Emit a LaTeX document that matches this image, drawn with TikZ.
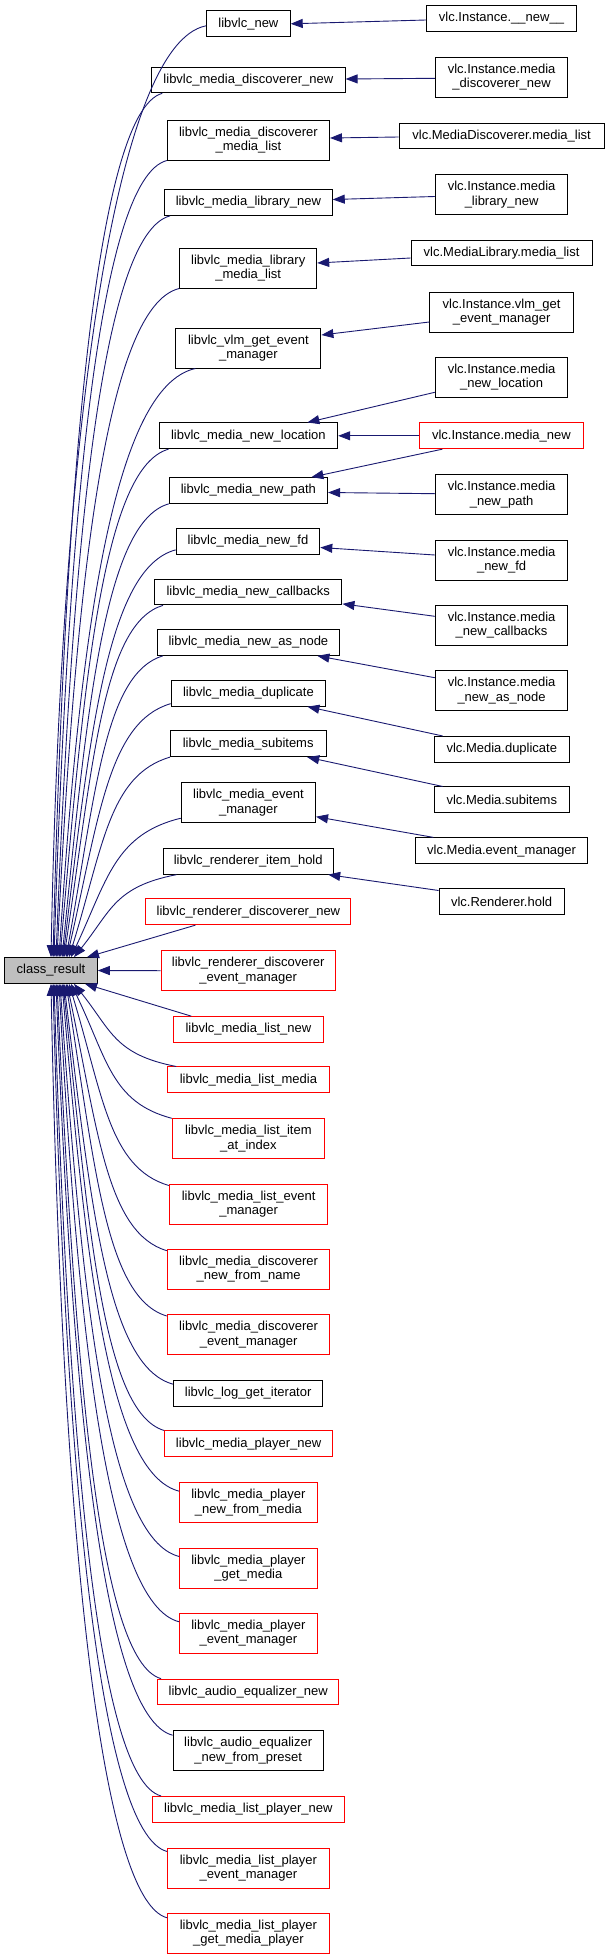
\documentclass[tikz,border=0pt]{standalone}
\usepackage{fontspec}
\setmainfont{Liberation Sans}
\usetikzlibrary{arrows.meta}
\definecolor{edgeblue}{RGB}{25,25,112}
\definecolor{boxred}{RGB}{255,0,0}
\definecolor{crgray}{RGB}{191,191,191}
\tikzset{
  nd/.style={draw=black, line width=1pt, rectangle, inner sep=0pt, minimum height=25.7pt,
    font=\fontsize{13}{14.5}\selectfont, align=center},
  ndd/.style={nd, minimum height=40pt},
  rd/.style={draw=boxred},
  edge/.style={draw=edgeblue, line width=0.9pt, -{Triangle[length=12pt,width=9pt]}},
}
\begin{document}
\begin{tikzpicture}[x=1pt,y=1pt]
\useasboundingbox (0,0) rectangle (607,-1959);
% class_result
\node[nd, fill=crgray, minimum width=92.6pt] (cr) at (51,-970.5) {class\_result};
% middle column
\node[nd, minimum width=83.6pt] (m1) at (248.4,-23.8) {libvlc\_new};
\node[nd, minimum width=193.4pt] (m2) at (248.4,-80) {libvlc\_media\_discoverer\_new};
\node[ndd, minimum width=162.2pt] (m3) at (248.4,-140) {libvlc\_media\_discoverer\\\_media\_list};
\node[nd, minimum width=167.7pt] (m4) at (248.4,-202.5) {libvlc\_media\_library\_new};
\node[ndd, minimum width=137pt] (m5) at (248.2,-268) {libvlc\_media\_library\\\_media\_list};
\node[ndd, minimum width=145pt] (m6) at (248.4,-348) {libvlc\_vlm\_get\_event\\\_manager};
\node[nd, minimum width=178.6pt] (m7) at (248.4,-435.8) {libvlc\_media\_new\_location};
\node[nd, minimum width=158.3pt] (m8) at (248.4,-490.5) {libvlc\_media\_new\_path};
\node[nd, minimum width=143.6pt] (m9) at (248,-541.5) {libvlc\_media\_new\_fd};
\node[nd, minimum width=187.5pt] (m10) at (248.2,-592) {libvlc\_media\_new\_callbacks};
\node[nd, minimum width=182.4pt] (m11) at (248.4,-642.5) {libvlc\_media\_new\_as\_node};
\node[nd, minimum width=154.4pt] (m12) at (248.4,-693.3) {libvlc\_media\_duplicate};
\node[nd, minimum width=155.6pt] (m13) at (248.2,-743.8) {libvlc\_media\_subitems};
\node[ndd, minimum width=134.2pt] (m14) at (248.4,-802.7) {libvlc\_media\_event\\\_manager};
\node[nd, minimum width=170.4pt] (m15) at (248.2,-861.3) {libvlc\_renderer\_item\_hold};
\node[nd, rd, minimum width=205pt] (m16) at (248.4,-911.8) {libvlc\_renderer\_discoverer\_new};
\node[ndd, rd, minimum width=174.3pt] (m17) at (248.2,-970.7) {libvlc\_renderer\_discoverer\\\_event\_manager};
\node[nd, rd, minimum width=150.5pt] (m18) at (248.4,-1029.5) {libvlc\_media\_list\_new};
\node[nd, rd, minimum width=161.4pt] (m19) at (248.4,-1079.8) {libvlc\_media\_list\_media};
\node[ndd, rd, minimum width=152.1pt] (m20) at (248.4,-1138.8) {libvlc\_media\_list\_item\\\_at\_index};
\node[ndd, rd, minimum width=158.7pt] (m21) at (248.6,-1204) {libvlc\_media\_list\_event\\\_manager};
\node[ndd, rd, minimum width=162.6pt] (m22) at (248.6,-1269.2) {libvlc\_media\_discoverer\\\_new\_from\_name};
\node[ndd, rd, minimum width=162.6pt] (m23) at (248.6,-1334.5) {libvlc\_media\_discoverer\\\_event\_manager};
\node[nd, minimum width=149.4pt] (m24) at (248.2,-1393.5) {libvlc\_log\_get\_iterator};
\node[nd, rd, minimum width=168pt] (m25) at (248.6,-1443.8) {libvlc\_media\_player\_new};
\node[ndd, rd, minimum width=137.3pt] (m26) at (248.4,-1502.7) {libvlc\_media\_player\\\_new\_from\_media};
\node[ndd, rd, minimum width=137.3pt] (m27) at (248.4,-1568) {libvlc\_media\_player\\\_get\_media};
\node[ndd, rd, minimum width=137.3pt] (m28) at (248.4,-1633.3) {libvlc\_media\_player\\\_event\_manager};
\node[nd, rd, minimum width=181.3pt] (m29) at (248.2,-1692) {libvlc\_audio\_equalizer\_new};
\node[ndd, minimum width=150.2pt] (m30) at (248.2,-1750.7) {libvlc\_audio\_equalizer\\\_new\_from\_preset};
\node[nd, rd, minimum width=191.8pt] (m31) at (248.4,-1809.3) {libvlc\_media\_list\_player\_new};
\node[ndd, rd, minimum width=161.4pt] (m32) at (248.4,-1868) {libvlc\_media\_list\_player\\\_event\_manager};
\node[ndd, rd, minimum width=161.4pt] (m33) at (248.4,-1933.3) {libvlc\_media\_list\_player\\\_get\_media\_player};
% right column
\node[nd, minimum width=150pt] (r1) at (501.5,-18.5) {vlc.Instance.\_\_new\_\_};
\node[ndd, minimum width=132.7pt] (r2) at (501.6,-77.3) {vlc.Instance.media\\\_discoverer\_new};
\node[nd, minimum width=205pt] (r3) at (501.6,-136) {vlc.MediaDiscoverer.media\_list};
\node[ndd, minimum width=132.7pt] (r4) at (501.6,-194.5) {vlc.Instance.media\\\_library\_new};
\node[nd, minimum width=181pt] (r5) at (501.6,-253) {vlc.MediaLibrary.media\_list};
\node[ndd, minimum width=143.6pt] (r6) at (501.6,-312) {vlc.Instance.vlm\_get\\\_event\_manager};
\node[ndd, minimum width=132.7pt] (r7) at (501.6,-377.3) {vlc.Instance.media\\\_new\_location};
\node[nd, rd, minimum width=164.2pt] (r8) at (501.4,-435.8) {vlc.Instance.media\_new};
\node[ndd, minimum width=132.7pt] (r9) at (501.6,-494.7) {vlc.Instance.media\\\_new\_path};
\node[ndd, minimum width=132.7pt] (r10) at (501.6,-560) {vlc.Instance.media\\\_new\_fd};
\node[ndd, minimum width=132.7pt] (r11) at (501.6,-625.3) {vlc.Instance.media\\\_new\_callbacks};
\node[ndd, minimum width=132.7pt] (r12) at (501.6,-690.7) {vlc.Instance.media\\\_new\_as\_node};
\node[nd, minimum width=135.4pt] (r13) at (501.8,-749.3) {vlc.Media.duplicate};
\node[nd, minimum width=135.4pt] (r14) at (501.8,-799.8) {vlc.Media.subitems};
\node[nd, minimum width=171.6pt] (r15) at (501.6,-850.7) {vlc.Media.event\_manager};
\node[nd, minimum width=124.9pt] (r16) at (501.6,-901.5) {vlc.Renderer.hold};
% right -> middle edges
\draw[edge] ([yshift=-1.5]r1.west) -- (m1.east);
\draw[edge] ([yshift=-1]r2.west) -- ([yshift=1]m2.east);
\draw[edge] ([yshift=-1]r3.west) -- ([yshift=2]m3.east);
\draw[edge] ([yshift=-2]r4.west) -- ([yshift=3]m4.east);
\draw[edge] ([yshift=-5]r5.west) -- ([yshift=5]m5.east);
\draw[edge] ([yshift=-10]r6.west) -- ([yshift=13]m6.east);
\draw[edge] ([yshift=-15]r7.west) -- ([xshift=59]m7.north);
\draw[edge] (r8.west) -- (m7.east);
\draw[edge] ([xshift=-59]r8.south) -- ([xshift=63]m8.north);
\draw[edge] ([yshift=1]r9.west) -- ([yshift=-2]m8.east);
\draw[edge] ([yshift=5]r10.west) -- ([yshift=-6]m9.east);
\draw[edge] ([yshift=9]r11.west) -- ([yshift=1.5]m10.south east);
\draw[edge] ([yshift=13]r12.west) -- ([xshift=69]m11.south);
\draw[edge] ([xshift=9]r13.north west) -- ([xshift=59]m12.south);
\draw[edge] ([xshift=9]r14.north west) -- ([xshift=59]m13.south);
\draw[edge] ([xshift=18]r15.north west) -- ([yshift=-14]m14.east);
\draw[edge] ([yshift=11]r16.west) -- ([xshift=80]m15.south);
% middle -> class_result (upper)
\draw[edge] ([yshift=-2]m1.west) .. controls +(-93,-18) and +(10,513) .. ([xshift=0]cr.north);
\draw[edge] ([xshift=11]m2.south west) .. controls +(-66,-18) and +(12,476) .. ([xshift=2]cr.north);
\draw[edge] (m3.south west) .. controls +(-68,-18) and +(14,439) .. ([xshift=3]cr.north);
\draw[edge] ([xshift=6]m4.south west) .. controls +(-69,-18) and +(16,408) .. ([xshift=5]cr.north);
\draw[edge] (m5.south west) .. controls +(-74,-18) and +(18,368) .. ([xshift=6]cr.north);
\draw[edge] ([xshift=20]m6.south west) .. controls +(-82,-18) and +(21,324) .. ([xshift=8]cr.north);
\draw[edge] ([xshift=10]m7.south west) .. controls +(-65,-18) and +(24,280) .. ([xshift=9]cr.north);
\draw[edge] (m8.south west) .. controls +(-64,-18) and +(25,250) .. ([xshift=11]cr.north);
\draw[edge] ([yshift=5]m9.south west) .. controls +(-68,-18) and +(27,225) .. ([xshift=12]cr.north);
\draw[edge] ([xshift=9]m10.south west) .. controls +(-60,-18) and +(29,194) .. ([xshift=13]cr.north);
\draw[edge] ([xshift=6]m11.south west) .. controls +(-58,-18) and +(30,166) .. ([xshift=15]cr.north);
\draw[edge] ([yshift=3]m12.south west) .. controls +(-62,-18) and +(32,140) .. ([xshift=16]cr.north);
\draw[edge] (m13.south west) .. controls +(-61,-18) and +(34,110) .. ([xshift=18]cr.north);
\draw[edge] ([yshift=5]m14.south west) .. controls +(-66,-16) and +(36,77) .. ([xshift=20]cr.north);
\draw[edge] ([xshift=14]m15.south west) .. controls +(-62,-12) and +(37,46) .. ([xshift=23]cr.north);
\draw[edge] ([xshift=50]m16.south west) -- ([xshift=36]cr.north);
% horizontal
\draw[edge] (m17.west) -- (cr.east);
% middle -> class_result (lower)
\draw[edge] ([xshift=18.6]m18.north west) -- ([xshift=34]cr.south);
\draw[edge] ([xshift=9]m19.north west) .. controls +(-62,12) and +(37,-46) .. ([xshift=23]cr.south);
\draw[edge] (m20.north west) .. controls +(-61,16) and +(36,-74) .. ([xshift=20]cr.south);
\draw[edge] ([yshift=-2]m21.north west) .. controls +(-60,18) and +(34,-111) .. ([xshift=18]cr.south);
\draw[edge] ([yshift=-2]m22.north west) .. controls +(-60,18) and +(31,-147) .. ([xshift=16]cr.south);
\draw[edge] ([yshift=-2]m23.north west) .. controls +(-61,18) and +(29,-183) .. ([xshift=15]cr.south);
\draw[edge] ([yshift=-4]m24.north west) .. controls +(-66,18) and +(27,-221) .. ([xshift=13]cr.south);
\draw[edge] (m25.north west) .. controls +(-61,18) and +(26,-246) .. ([xshift=12]cr.south);
\draw[edge] ([yshift=-9]m26.north west) .. controls +(-71,18) and +(24,-280) .. ([xshift=11]cr.south);
\draw[edge] ([yshift=-9]m27.north west) .. controls +(-72,18) and +(22,-316) .. ([xshift=9]cr.south);
\draw[edge] ([yshift=-9]m28.north west) .. controls +(-72,18) and +(19,-351) .. ([xshift=8]cr.south);
\draw[edge] ([xshift=4]m29.north west) .. controls +(-63,18) and +(18,-383) .. ([xshift=6]cr.south);
\draw[edge] ([yshift=-5]m30.north west) .. controls +(-70,18) and +(16,-414) .. ([xshift=5]cr.south);
\draw[edge] ([xshift=9]m31.north west) .. controls +(-65,18) and +(14,-447) .. ([xshift=3]cr.south);
\draw[edge] ([yshift=-4]m32.north west) .. controls +(-69,18) and +(12,-478) .. ([xshift=2]cr.south);
\draw[edge] ([yshift=-5]m33.north west) .. controls +(-70,18) and +(10,-514) .. ([xshift=0]cr.south);
\end{tikzpicture}
\end{document}
